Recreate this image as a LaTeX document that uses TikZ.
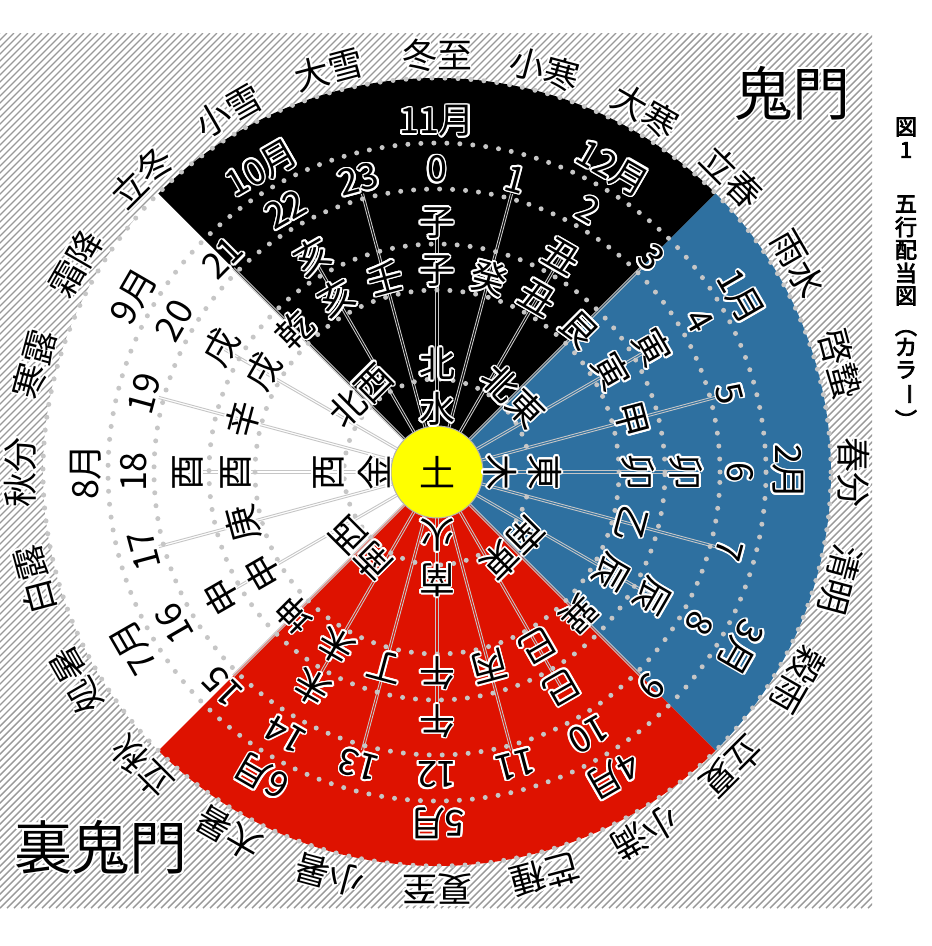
\documentclass[tikz,border=0pt]{standalone}
\usepackage{fontspec}
\setmainfont{Noto Sans CJK JP}
\newfontfamily\capfont[FakeBold=3.5]{Noto Sans CJK JP}
\definecolor{sblue}{RGB}{46,112,160}
\definecolor{sred}{RGB}{222,18,0}
\definecolor{syellow}{RGB}{255,255,0}
\newlength\hd \setlength\hd{1.7pt}
\newcommand\hl[3]{\rlap{\kern#1\hd\raisebox{#2\hd}{#3}}}
\newcommand\halo[1]{\leavevmode\rlap{\color{white}\hl{1}{0}{#1}\hl{.92}{.38}{#1}\hl{.71}{.71}{#1}\hl{.38}{.92}{#1}\hl{0}{1}{#1}\hl{-.38}{.92}{#1}\hl{-.71}{.71}{#1}\hl{-.92}{.38}{#1}\hl{-1}{0}{#1}\hl{-.92}{-.38}{#1}\hl{-.71}{-.71}{#1}\hl{-.38}{-.92}{#1}\hl{0}{-1}{#1}\hl{.38}{-.92}{#1}\hl{.71}{-.71}{#1}\hl{.92}{-.38}{#1}}#1}
\tikzset{
  lab/.style={inner sep=0pt, font=\fontsize{36}{36}\selectfont},
  solar/.style={inner sep=0pt, font=\fontsize{35}{35}\selectfont},
  big/.style={inner sep=0pt, font=\fontsize{58}{58}\selectfont},
  capt/.style={inner sep=0pt, font=\capfont\fontsize{22}{22}\selectfont},
  hatchline/.style={draw=gray!80, line width=1.4pt},
  dotring/.style={draw=gray!45, line width=5pt, line cap=round, dash pattern=on 0pt off 13pt},
  spokeline/.style={draw=gray!45, line width=0.9pt},
}
\begin{document}
\begin{tikzpicture}[x=1pt,y=1pt]
\useasboundingbox (0,0) rectangle (932,-946);
\fill[white] (0,0) rectangle (932,-946);
% hatched background
\begin{scope}
  \clip (0,-33) rectangle (872,-908);
  \foreach \i in {-910,-903,...,872} \draw[hatchline] (\i,-908) -- ++(875,875);
\end{scope}
\begin{scope}[shift={(437,-472)}]
  % sectors
  \fill[white] (0,0) circle (394);
  \fill[black] (0,0) -- (45:394) arc[start angle=45, end angle=135, radius=394] -- cycle;
  \fill[sblue] (0,0) -- (-45:394) arc[start angle=-45, end angle=45, radius=394] -- cycle;
  \fill[sred] (0,0) -- (225:394) arc[start angle=225, end angle=315, radius=394] -- cycle;
  % dotted rings
  \foreach \r in {93,182,228,283,329,394} \draw[dotring] (0,0) circle (\r);
  % spokes
  \foreach \h in {0,...,23}{
    \pgfmathsetmacro\th{90-15*\h}
    \pgfmathsetmacro\re{mod(\h,2)==0 ? 249 : 288}
    \foreach \s in {-1.1,1.1}
      \draw[spokeline] ([shift={(\th+90:\s)}]\th:46) -- ([shift={(\th+90:\s)}]\th:\re);
  }
  % centre
  \node[circle, fill=syellow, draw=gray!60, line width=1pt, minimum size=92pt, inner sep=0pt, font=\fontsize{36}{36}\selectfont] (earth) at (0,0) {土};
  % solar terms
  \foreach \h/\t in {0/冬至,1/小寒,2/大寒,3/立春,4/雨水,5/啓蟄,6/春分,7/清明,8/穀雨,9/立夏,10/小満,11/芒種,12/夏至,13/小暑,14/大暑,15/立秋,16/処暑,17/白露,18/秋分,19/寒露,20/霜降,21/立冬,22/小雪,23/大雪}
    \node[solar, rotate=-15*\h] (st\h) at ({90-15*\h}:417) {\halo{\t}};
  % months
  \foreach \h/\t in {0/11月,2/12月,4/1月,6/2月,8/3月,10/4月,12/5月,14/6月,16/7月,18/8月,20/9月,22/10月}
    \node[lab, rotate=-15*\h] (mo\h) at ({90-15*\h}:351) {\halo{\t}};
  % hours
  \foreach \h in {0,...,23}
    \node[lab, rotate=-15*\h] (hr\h) at ({90-15*\h}:303) {\halo{\h}};
  % zodiac
  \foreach \h/\t in {0/子,2/丑,4/寅,6/卯,8/辰,10/巳,12/午,14/未,16/申,18/酉,20/戌,22/亥}
    \node[lab, rotate=-15*\h] (zd\h) at ({90-15*\h}:249) {\halo{\t}};
  % 24 mountains
  \foreach \h/\t in {0/子,1/癸,2/丑,3/艮,4/寅,5/甲,6/卯,7/乙,8/辰,9/巽,10/巳,11/丙,12/午,13/丁,14/未,15/坤,16/申,17/庚,18/酉,19/辛,20/戌,21/乾,22/亥,23/壬}
    \node[lab, rotate=-15*\h] (mt\h) at ({90-15*\h}:201) {\halo{\t}};
  % directions
  \foreach \h/\t in {0/北,3/北東,6/東,9/南東,12/南,15/南西,18/西,21/北西}
    \node[lab, rotate=-15*\h] (dr\h) at ({90-15*\h}:108) {\halo{\t}};
  % elements
  \foreach \h/\t in {0/水,6/木,12/火,18/金}
    \node[lab, rotate=-15*\h] (el\h) at ({90-15*\h}:63) {\halo{\t}};
\end{scope}
% kimon labels
\node[big] (kimon) at (792,-93) {\halo{鬼門}};
\node[big] (urakimon) at (101,-847) {\halo{裏鬼門}};
% caption
\node[capt] (c1) at (906,-127) {図};
\node[capt] (c2) at (906,-150) {1};
\node[capt] (c3) at (906,-204) {五};
\node[capt] (c4) at (906,-227) {行};
\node[capt] (c5) at (906,-250) {配};
\node[capt] (c6) at (906,-273) {当};
\node[capt] (c7) at (906,-296) {図};
\node[capt, rotate=-90] (c8) at (906,-326) {（};
\node[capt] (c9) at (906,-347) {カ};
\node[capt] (c10) at (906,-370) {ラ};
\node[capt, rotate=-90] (c11) at (906,-394) {ー};
\node[capt, rotate=-90] (c12) at (906,-420) {）};
\end{tikzpicture}
\end{document}
